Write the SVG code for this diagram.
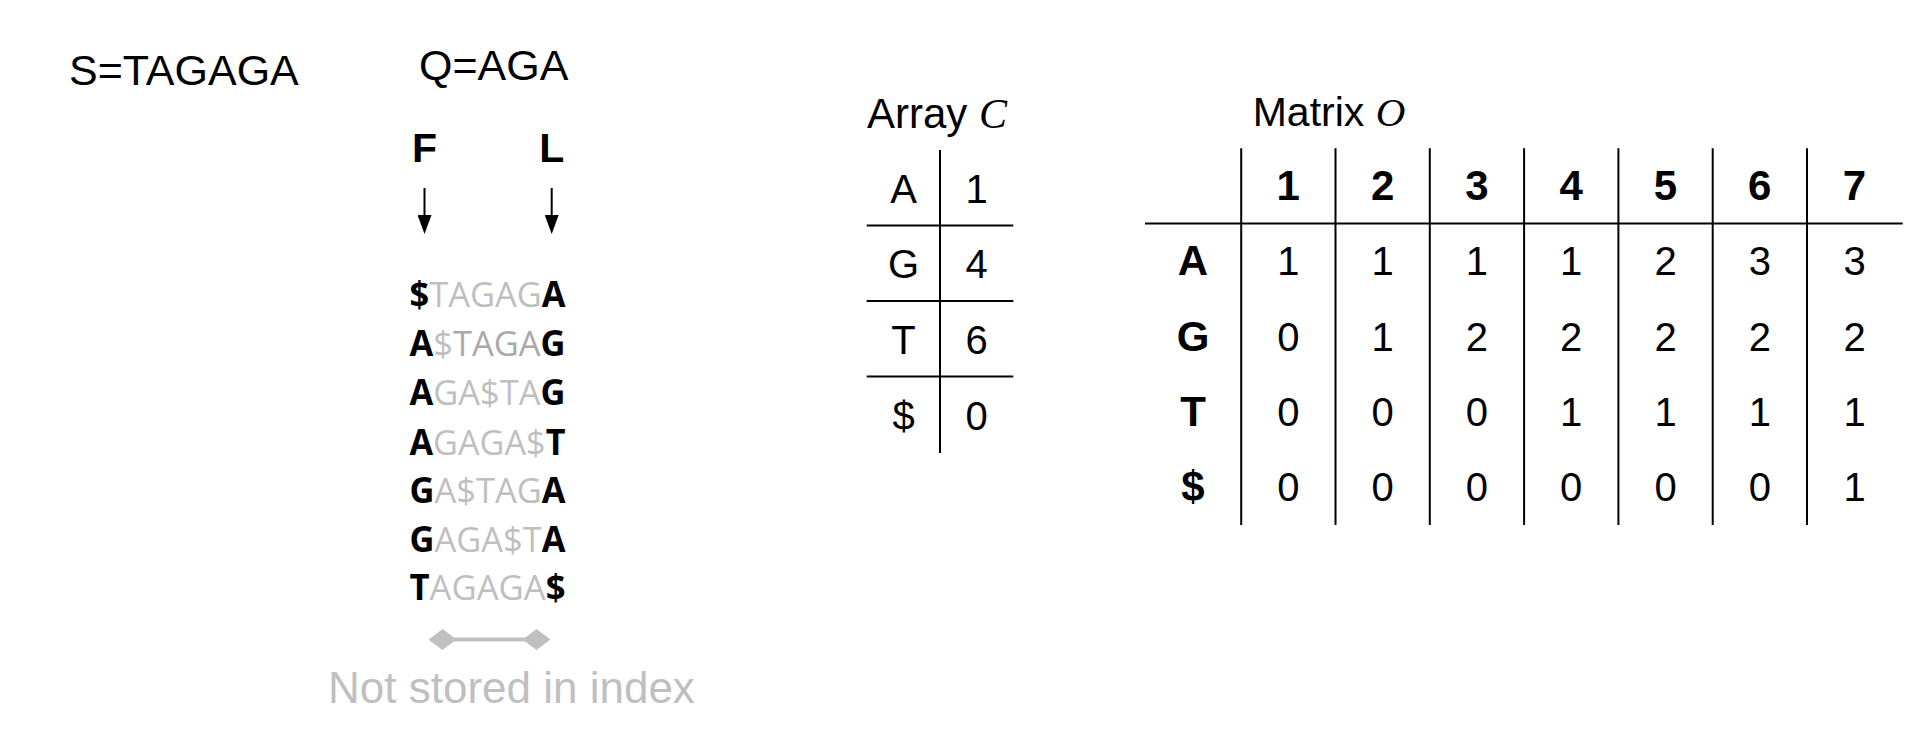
<svg xmlns="http://www.w3.org/2000/svg" width="1924" height="752" viewBox="0 0 1924 752">
<defs>
<style>
.sans{font-family:"Liberation Sans",Arial,sans-serif;fill:#000}
.b{font-weight:bold}
.it{font-family:"Liberation Serif","Times New Roman",serif;font-style:italic;fill:#000}
.bwt{font-family:"Open Sans","Noto Sans",sans-serif;font-size:35px}
.k{font-weight:bold;fill:#000}
.g{fill:#bfbfbf}
.g2{fill:#a9a9a9}
.cell{font-family:"Liberation Sans",Arial,sans-serif;font-size:40px;text-anchor:middle;fill:#000}
.hd{font-size:42px;font-weight:bold}
.rule{stroke:#000;stroke-width:2;fill:none}
.arrow{stroke:#000;stroke-width:2;fill:none}
</style>
<marker id="head" viewBox="0 0 19 14" refX="0" refY="7" markerWidth="19" markerHeight="14" markerUnits="userSpaceOnUse" orient="auto">
<polygon points="0,0 19,7 0,14" fill="#000"/>
</marker>
<marker id="dia" viewBox="0 0 28 21" refX="14" refY="10.5" markerWidth="28" markerHeight="21" markerUnits="userSpaceOnUse" orient="auto">
<polygon points="0,10.5 14,0 28,10.5 14,21" fill="#c0c0c0"/>
</marker>
</defs>
<rect width="1924" height="752" fill="#fff"/>

<g id="label-S"><text class="sans" x="69" y="85" font-size="43">S=TAGAGA</text></g>
<g id="label-Q"><text class="sans" x="419" y="80" font-size="43">Q=AGA</text></g>
<g id="label-F"><text class="sans b" x="424.5" y="161.5" font-size="41" text-anchor="middle">F</text></g>
<g id="label-L"><text class="sans b" x="551.7" y="161.5" font-size="41" text-anchor="middle">L</text></g>

<g id="bwt-rows">
<text class="bwt" x="409.5" y="307" textLength="156" lengthAdjust="spacingAndGlyphs"><tspan class="k">$</tspan><tspan class="g">TAGAG</tspan><tspan class="k">A</tspan></text>
<text class="bwt" x="409.5" y="356" textLength="156" lengthAdjust="spacingAndGlyphs"><tspan class="k">A</tspan><tspan class="g">$</tspan><tspan class="g2">TAGA</tspan><tspan class="k">G</tspan></text>
<text class="bwt" x="409.5" y="405" textLength="156" lengthAdjust="spacingAndGlyphs"><tspan class="k">A</tspan><tspan class="g">GA$TA</tspan><tspan class="k">G</tspan></text>
<text class="bwt" x="409.5" y="454.5" textLength="156" lengthAdjust="spacingAndGlyphs"><tspan class="k">A</tspan><tspan class="g">GAGA$</tspan><tspan class="k">T</tspan></text>
<text class="bwt" x="409.5" y="503" textLength="156" lengthAdjust="spacingAndGlyphs"><tspan class="k">G</tspan><tspan class="g">A$TAG</tspan><tspan class="k">A</tspan></text>
<text class="bwt" x="409.5" y="551.5" textLength="156" lengthAdjust="spacingAndGlyphs"><tspan class="k">G</tspan><tspan class="g">AGA$T</tspan><tspan class="k">A</tspan></text>
<text class="bwt" x="409.5" y="600" textLength="156" lengthAdjust="spacingAndGlyphs"><tspan class="k">T</tspan><tspan class="g">AGAGA</tspan><tspan class="k">$</tspan></text>
</g>

<g id="note"><text class="sans" x="328" y="703" font-size="44" style="fill:#bfbfbf">Not stored in index</text></g>

<g id="connectors">
<line class="arrow" x1="424.5" y1="188" x2="424.5" y2="215" marker-end="url(#head)"/>
<line class="arrow" x1="551.7" y1="188" x2="551.7" y2="215" marker-end="url(#head)"/>
<line x1="442.5" y1="639.5" x2="536.5" y2="639.5" stroke="#c0c0c0" stroke-width="4" marker-start="url(#dia)" marker-end="url(#dia)"/>
</g>

<g id="array-C">
<text class="sans" x="867" y="128" font-size="42">Array <tspan class="it">C</tspan></text>
<line class="rule" x1="940" y1="150" x2="940" y2="453"/>
<line class="rule" x1="866.7" y1="225.5" x2="1013.3" y2="225.5"/>
<line class="rule" x1="866.7" y1="301" x2="1013.3" y2="301"/>
<line class="rule" x1="866.7" y1="376.5" x2="1013.3" y2="376.5"/>
<text class="cell" x="903.5" y="202.7">A</text><text class="cell" x="976.7" y="202.7">1</text>
<text class="cell" x="903.5" y="278.3">G</text><text class="cell" x="976.7" y="278.3">4</text>
<text class="cell" x="903.5" y="354">T</text><text class="cell" x="976.7" y="354">6</text>
<text class="cell" x="903.5" y="429.7">$</text><text class="cell" x="976.7" y="429.7">0</text>
</g>

<g id="matrix-O">
<text class="sans" x="1252.7" y="126" font-size="41">Matrix <tspan class="it">O</tspan></text>
<line class="rule" x1="1145" y1="223.5" x2="1902.7" y2="223.5"/>
<line class="rule" x1="1241.2" y1="148.3" x2="1241.2" y2="525"/>
<line class="rule" x1="1335.5" y1="148.3" x2="1335.5" y2="525"/>
<line class="rule" x1="1429.8" y1="148.3" x2="1429.8" y2="525"/>
<line class="rule" x1="1524.1" y1="148.3" x2="1524.1" y2="525"/>
<line class="rule" x1="1618.4" y1="148.3" x2="1618.4" y2="525"/>
<line class="rule" x1="1712.7" y1="148.3" x2="1712.7" y2="525"/>
<line class="rule" x1="1807" y1="148.3" x2="1807" y2="525"/>
<text class="cell hd" x="1288.3" y="200">1</text>
<text class="cell hd" x="1382.6" y="200">2</text>
<text class="cell hd" x="1476.9" y="200">3</text>
<text class="cell hd" x="1571.2" y="200">4</text>
<text class="cell hd" x="1665.5" y="200">5</text>
<text class="cell hd" x="1759.8" y="200">6</text>
<text class="cell hd" x="1854.5" y="200">7</text>
<text class="cell hd" x="1193" y="275">A</text>
<text class="cell hd" x="1193" y="350.5">G</text>
<text class="cell hd" x="1193" y="425.5">T</text>
<text class="cell hd" x="1193" y="500.5">$</text>
<text class="cell" x="1288.3" y="275">1</text><text class="cell" x="1382.6" y="275">1</text><text class="cell" x="1476.9" y="275">1</text><text class="cell" x="1571.2" y="275">1</text><text class="cell" x="1665.5" y="275">2</text><text class="cell" x="1759.8" y="275">3</text><text class="cell" x="1854.5" y="275">3</text>
<text class="cell" x="1288.3" y="350.5">0</text><text class="cell" x="1382.6" y="350.5">1</text><text class="cell" x="1476.9" y="350.5">2</text><text class="cell" x="1571.2" y="350.5">2</text><text class="cell" x="1665.5" y="350.5">2</text><text class="cell" x="1759.8" y="350.5">2</text><text class="cell" x="1854.5" y="350.5">2</text>
<text class="cell" x="1288.3" y="425.5">0</text><text class="cell" x="1382.6" y="425.5">0</text><text class="cell" x="1476.9" y="425.5">0</text><text class="cell" x="1571.2" y="425.5">1</text><text class="cell" x="1665.5" y="425.5">1</text><text class="cell" x="1759.8" y="425.5">1</text><text class="cell" x="1854.5" y="425.5">1</text>
<text class="cell" x="1288.3" y="500.5">0</text><text class="cell" x="1382.6" y="500.5">0</text><text class="cell" x="1476.9" y="500.5">0</text><text class="cell" x="1571.2" y="500.5">0</text><text class="cell" x="1665.5" y="500.5">0</text><text class="cell" x="1759.8" y="500.5">0</text><text class="cell" x="1854.5" y="500.5">1</text>
</g>
</svg>
